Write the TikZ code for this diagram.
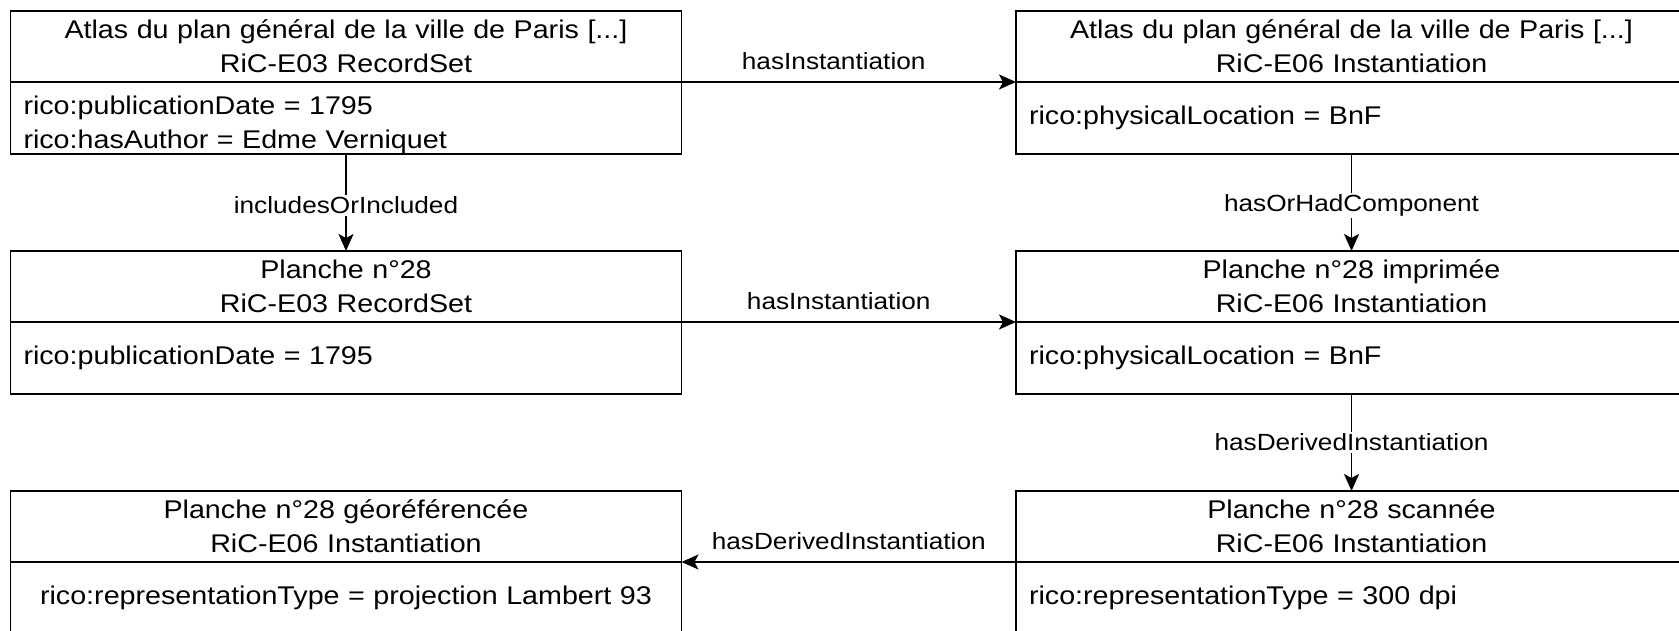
\documentclass[tikz,border=0pt]{standalone}
\usepackage{fontspec}
\setmainfont{Liberation Sans}[FakeStretch=1.12]
\usetikzlibrary{positioning,arrows.meta}
\begin{document}
\begin{tikzpicture}[x=1pt,y=-1pt,
  every node/.style={outer sep=0pt},
  hdr/.style={draw,line width=1.8pt,text width=645pt,inner xsep=13pt,inner ysep=0pt,
    minimum height=71pt,align=center,font=\fontsize{25.6}{34}\selectfont},
  attrs/.style={hdr,minimum height=72pt,align=left},
  rel/.style={draw,line width=1.6pt,-{Stealth[length=17pt,width=15pt,inset=4pt]}},
  lbl/.style={font=\fontsize{23.4}{28}\selectfont,fill=white,inner sep=2pt}]
\useasboundingbox (0,0) rectangle (1679,631);
\clip (0,0) rectangle (1679,631);
\node[hdr] (atlasH) at (346,46.5) {Atlas du plan général de la ville de Paris [...]\\RiC-E03 RecordSet};
\node[attrs,text height=32.8pt,text depth=39.2pt,below=0pt of atlasH] (atlasA) {rico:publicationDate = 1795\\rico:hasAuthor = Edme Verniquet};
\node[hdr,right=334.5pt of atlasH] (atlasInstH) {Atlas du plan général de la ville de Paris [...]\\RiC-E06 Instantiation};
\node[attrs,below=0pt of atlasInstH] (atlasInstA) {rico:physicalLocation = BnF};
\node[hdr,below=97pt of atlasA] (plancheH) {Planche n°28\\RiC-E03 RecordSet};
\node[attrs,below=0pt of plancheH] (plancheA) {rico:publicationDate = 1795};
\node[hdr,below=97pt of atlasInstA] (imprH) {Planche n°28 imprimée\\RiC-E06 Instantiation};
\node[attrs,below=0pt of imprH] (imprA) {rico:physicalLocation = BnF};
\node[hdr,below=97pt of imprA] (scanH) {Planche n°28 scannée\\RiC-E06 Instantiation};
\node[attrs,below=0pt of scanH] (scanA) {rico:representationType = 300 dpi};
\node[hdr,below=97pt of plancheA] (georefH) {Planche n°28 géoréférencée\\RiC-E06 Instantiation};
\node[attrs,align=center,below=0pt of georefH] (georefA) {rico:representationType = projection Lambert 93};
\draw[rel] (atlasA.north east) -- node[lbl,pos=0.455,yshift=21pt]{hasInstantiation} (atlasInstA.north west);
\draw[rel] (plancheA.north east) -- node[lbl,pos=0.47,yshift=21pt]{hasInstantiation} (imprA.north west);
\draw[rel] (scanA.north west) -- node[lbl,yshift=21pt]{hasDerivedInstantiation} (georefA.north east);
\draw[rel] (atlasA) -- node[lbl,pos=0.53]{includesOrIncluded} (plancheH);
\draw[rel] (atlasInstA) -- node[lbl,pos=0.53]{hasOrHadComponent} (imprH);
\draw[rel] (imprA) -- node[lbl]{hasDerivedInstantiation} (scanH);
\end{tikzpicture}
\end{document}
